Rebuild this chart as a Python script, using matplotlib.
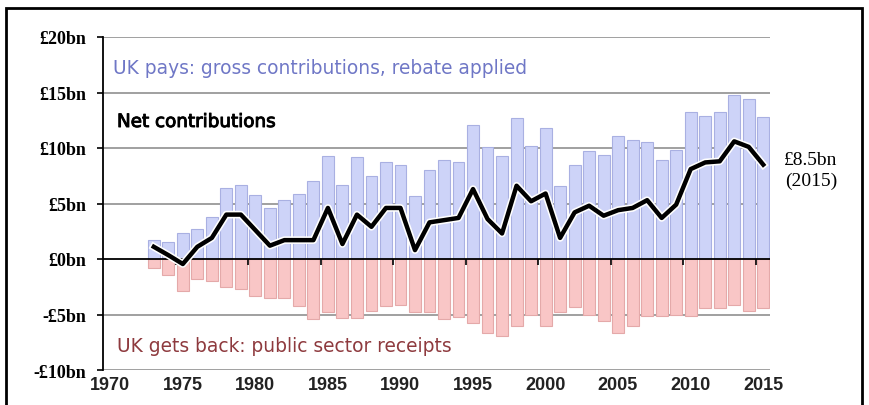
import matplotlib
matplotlib.use("Agg")
import matplotlib.pyplot as plt
import matplotlib.patheffects as pe
from matplotlib.transforms import ScaledTranslation
from matplotlib.patches import Rectangle

years = list(range(1973, 2016))
gross = [1.7, 1.5, 2.3, 2.7, 3.8, 6.4, 6.7, 5.8, 4.6, 5.3,
         5.9, 7.0, 9.3, 6.7, 9.2, 7.5, 8.7, 8.5, 5.7, 8.0,
         8.9, 8.7, 12.1, 10.1, 9.3, 12.7, 10.2, 11.8, 6.6, 8.5,
         9.7, 9.4, 11.1, 10.7, 10.5, 8.9, 9.8, 13.2, 12.9, 13.2,
         14.8, 14.4, 12.8]
receipts = [-0.8, -1.4, -2.9, -1.8, -2.0, -2.5, -2.7, -3.3, -3.5, -3.5,
            -4.2, -5.4, -4.8, -5.3, -5.3, -4.7, -4.2, -4.1, -4.8, -4.8,
            -5.4, -5.2, -5.8, -6.7, -6.9, -6.0, -5.0, -6.0, -4.8, -4.3,
            -5.0, -5.6, -6.7, -6.0, -5.1, -5.1, -5.0, -5.1, -4.4, -4.4,
            -4.1, -4.7, -4.4]
net = [1.1, 0.35, -0.45, 1.1, 1.9, 4.0, 4.0, 2.6, 1.2, 1.7,
       1.7, 1.7, 4.6, 1.35, 4.0, 2.9, 4.6, 4.6, 0.8, 3.3,
       3.5, 3.7, 6.3, 3.6, 2.3, 6.6, 5.2, 5.9, 1.9, 4.2,
       4.8, 3.9, 4.4, 4.6, 5.3, 3.7, 4.9, 8.1, 8.7, 8.8,
       10.6, 10.1, 8.5]
y_ticks = [-10, -5, 0, 5, 10, 15, 20]
y_labels = ["-£10bn", "-£5bn", "£0bn", "£5bn", "£10bn", "£15bn", "£20bn"]
x_ticks = list(range(1970, 2016, 5))
x_labels = [str(y) for y in x_ticks]
zero_ticks = list(range(1975, 2016, 5))

W, H = 869, 406
fig = plt.figure(figsize=(W / 100, H / 100), dpi=100)
ax = fig.add_axes([103 / W, 1 - 371 / H, 667.5 / W, 333 / H])

xc = [y + 0.5 for y in years]
ax.bar(xc, gross, width=0.82, color="#CDD3F8", edgecolor="#A9B0E2", linewidth=0.8, zorder=2)
ax.bar(xc, receipts, width=0.82, color="#F9C6C6", edgecolor="#E4A9A9", linewidth=0.8, zorder=2)
ax.plot(xc, net, color="black", lw=3.2, zorder=4, solid_joinstyle="round",
        path_effects=[pe.Stroke(linewidth=5.5, foreground="white"), pe.Normal()])

for yv in y_ticks:
    if yv != 0:
        ax.axhline(yv, color="#A0A0A0", lw=1.4, zorder=0)
ax.axhline(0, color="black", lw=1.3, zorder=3)
ax.plot(zero_ticks, [0] * len(zero_ticks), ls="none", marker=3, ms=4,
        mew=1.2, color="black", zorder=3, clip_on=False)

ax.set_xlim(1970, 2016)
ax.set_ylim(-10, 20)
for s in ["top", "right", "bottom"]:
    ax.spines[s].set_visible(False)
ax.spines["left"].set_color("black")
ax.spines["left"].set_linewidth(1.3)

ax.set_yticks(y_ticks)
ax.set_yticklabels(y_labels, family="Liberation Serif", fontweight="bold", fontsize=13)
ax.tick_params(axis="y", direction="out", length=4, width=1.2, pad=8, color="black")
ax.set_xticks(x_ticks)
ax.set_xticklabels(x_labels, family="Liberation Sans", fontweight="bold", fontsize=13, color="#222222")
ax.tick_params(axis="x", length=0, pad=4)
for lab in ax.get_xticklabels():
    lab.set_transform(lab.get_transform() + ScaledTranslation(7 / 100, 0, fig.dpi_scale_trans))

fig.text(113 / W, 1 - 68 / H, "UK pays: gross contributions, rebate applied",
         family="DejaVu Sans", fontsize=13.4, color="#6F77C6", va="center", ha="left")
fig.text(117 / W, 1 - 123 / H, "Net contributions",
         family="DejaVu Sans", fontsize=13.2, color="black", va="center", ha="left",
         path_effects=[pe.withStroke(linewidth=0.7, foreground="black")])
fig.text(117 / W, 1 - 347 / H, "UK gets back: public sector receipts",
         family="DejaVu Sans", fontsize=13.4, color="#8E3A3E", va="center", ha="left")
fig.text(811 / W, 1 - 171 / H, "£8.5bn\n(2015)", family="Liberation Serif",
         fontsize=14, color="black", va="center", ha="center", linespacing=1.25)

fig.patches.append(Rectangle((6 / W, -0.1), 856 / W, 1.1 - 9 / H, transform=fig.transFigure,
                             fill=False, edgecolor="black", lw=2))

fig.savefig("out.png", dpi=100)
